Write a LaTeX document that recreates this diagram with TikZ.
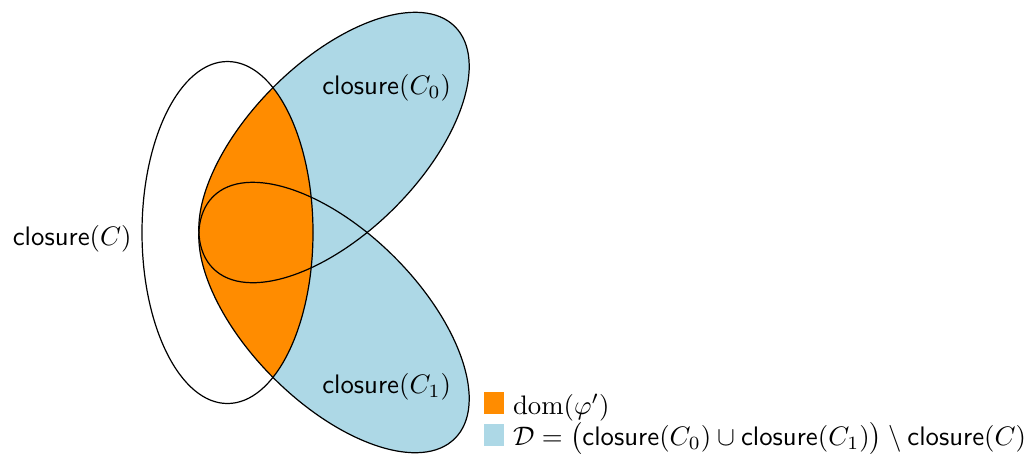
\documentclass[tikz,border=0pt]{standalone}
\usepackage{amsmath}
\definecolor{domorange}{HTML}{FF8C00}
\definecolor{dblue}{HTML}{ADD8E6}
\begin{document}
\begin{tikzpicture}[x=0.3734pt,y=0.3734pt,
  outline/.style={draw=black,line width=0.45pt},
  lbl/.style={inner sep=0pt,anchor=base},
  legtext/.style={inner sep=0pt,anchor=base west},
  legsq/.style={inner sep=0pt,minimum width=7.5pt,minimum height=8.1pt,anchor=south west}]
\useasboundingbox (0,0) rectangle (1025,-453);
% blue fill of the two tilted sets
\fill[dblue] (334,-147.5) ellipse [x radius=171, y radius=85.5, rotate=45];
\fill[dblue] (334,-317.5) ellipse [x radius=171, y radius=85.5, rotate=-45];
% orange: intersection with closure(C)
\begin{scope}
  \clip (227.5,-232.5) ellipse [x radius=85.5, y radius=171];
  \fill[domorange] (334,-147.5) ellipse [x radius=171, y radius=85.5, rotate=45];
  \fill[domorange] (334,-317.5) ellipse [x radius=171, y radius=85.5, rotate=-45];
\end{scope}
% outlines
\draw[outline] (227.5,-232.5) ellipse [x radius=85.5, y radius=171];
\draw[outline] (334,-147.5) ellipse [x radius=171, y radius=85.5, rotate=45];
\draw[outline] (334,-317.5) ellipse [x radius=171, y radius=85.5, rotate=-45];
% labels
\node[lbl] (lc0) at (386.7,-94.3) {\textsf{closure}$(C_0)$};
\node[lbl] (lc1) at (386.7,-393.3) {\textsf{closure}$(C_1)$};
\node[lbl] (lc) at (72.2,-245.7) {\textsf{closure}$(C)$};
% legend
\node[legsq,fill=domorange] (sq1) at (483,-414.3) {};
\node[legsq,fill=dblue] (sq2) at (483,-446.7) {};
\node[legtext,text depth=1.5pt] (t1) at (512.5,-414.3) {$\mathrm{dom}(\varphi')$};
\node[legtext,text height=7pt] (t2) at (512.5,-445) {$\mathcal{D} = \bigl(\textsf{closure}(C_0) \cup \textsf{closure}(C_1)\bigr) \setminus \textsf{closure}(C)$};
\end{tikzpicture}
\end{document}
